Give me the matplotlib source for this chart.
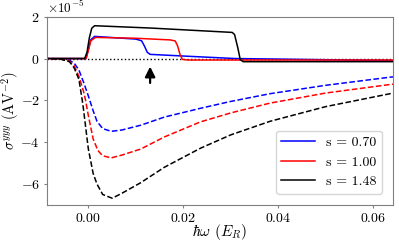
import matplotlib
matplotlib.use('Agg')
import matplotlib.pyplot as plt

plt.rcParams['font.family'] = 'serif'
plt.rcParams['font.serif'] = ['cmr10']
plt.rcParams['mathtext.fontset'] = 'cm'
plt.rcParams['axes.formatter.use_mathtext'] = True

labels = ['s = 0.70', 's = 1.00', 's = 1.48']
colors = ['blue', 'red', 'black']

# solid curves (units of 1e-5)
x_blue_s = [-0.0095, -0.0005, 0.0, 0.0005, 0.0013, 0.010, 0.0112, 0.0118, 0.0124, 0.013, 0.020, 0.031, 0.065]
y_blue_s = [0.0, 0.0, 0.45, 0.9, 1.06, 0.93, 0.85, 0.6, 0.3, 0.2, 0.12, 0.0, -0.1]
x_red_s = [-0.0095, -0.0005, 0.0, 0.0005, 0.0015, 0.010, 0.0173, 0.0183, 0.0188, 0.0193, 0.0198, 0.021, 0.065]
y_red_s = [0.0, 0.0, 0.4, 0.85, 1.01, 0.97, 0.89, 0.84, 0.6, 0.2, -0.04, -0.07, -0.07]
x_black_s = [-0.0095, -0.0008, -0.0003, 0.0002, 0.0007, 0.0013, 0.013, 0.0303, 0.0308, 0.0315, 0.032, 0.0326, 0.065]
y_black_s = [0.0, 0.0, 0.3, 1.0, 1.45, 1.57, 1.46, 1.25, 1.15, 0.5, -0.05, -0.15, -0.15]

# dashed curves (units of 1e-5)
x_blue_d = [-0.0095, -0.006, -0.004, -0.003, -0.002, -0.001, 0.0, 0.001, 0.0018, 0.003, 0.0048, 0.007, 0.011, 0.016, 0.0236, 0.030, 0.0383, 0.050, 0.0636, 0.065]
y_blue_d = [0.0, -0.01, -0.08, -0.22, -0.55, -1.15, -1.8, -2.5, -3.0, -3.35, -3.48, -3.42, -3.19, -2.8, -2.38, -2.05, -1.68, -1.28, -0.89, -0.86]
x_red_d = [-0.0095, -0.006, -0.004, -0.003, -0.002, -0.001, -0.0006, 0.0, 0.001, 0.002, 0.003, 0.0048, 0.007, 0.011, 0.016, 0.0236, 0.030, 0.0383, 0.050, 0.0636, 0.065]
y_red_d = [0.0, -0.02, -0.12, -0.35, -0.85, -1.6, -2.0, -2.75, -3.85, -4.4, -4.65, -4.75, -4.62, -4.33, -3.75, -3.03, -2.6, -2.13, -1.65, -1.24, -1.21]
x_black_d = [-0.0095, -0.006, -0.004, -0.003, -0.002, -0.0013, -0.001, -0.0002, 0.0, 0.001, 0.0018, 0.003, 0.005, 0.007, 0.011, 0.016, 0.0236, 0.030, 0.0383, 0.050, 0.0636, 0.065]
y_black_d = [0.0, -0.02, -0.15, -0.45, -1.0, -2.0, -2.5, -4.0, -4.35, -5.5, -6.0, -6.5, -6.68, -6.45, -5.94, -5.2, -4.29, -3.65, -3.0, -2.3, -1.68, -1.63]

solid = [(x_blue_s, y_blue_s), (x_red_s, y_red_s), (x_black_s, y_black_s)]
dashed = [(x_blue_d, y_blue_d), (x_red_d, y_red_d), (x_black_d, y_black_d)]

fig = plt.figure(figsize=(3.99, 2.46), dpi=100)
ax = fig.add_axes([0.117, 0.167, 0.868, 0.765])

ax.axhline(0, color='black', ls=':', lw=1)
for (xs, ys), (xd, yd), c, lab in zip(solid, dashed, colors, labels):
    ax.plot(xs, [v * 1e-5 for v in ys], color=c, lw=1.1, label=lab)
    ax.plot(xd, [v * 1e-5 for v in yd], color=c, lw=1.1, ls='--')

ax.annotate('', xy=(0.013, -0.25e-5), xytext=(0.013, -1.3e-5),
            arrowprops=dict(arrowstyle='-|>', color='black', lw=1.6, mutation_scale=15))

ax.set_xlim(-0.0088, 0.0642)
ax.set_ylim(-7e-5, 2e-5)
ax.set_xticks([0.0, 0.02, 0.04, 0.06])
ax.set_yticks([-6e-5, -4e-5, -2e-5, 0, 2e-5])
ax.ticklabel_format(axis='y', style='sci', scilimits=(0, 0))
ax.tick_params(labelsize=10, length=2, color='gray', pad=3)
ax.yaxis.get_offset_text().set_fontsize(9.5)
for sp in ax.spines.values():
    sp.set_color('gray')

ax.set_xlabel(r'$\hbar\omega$ $(E_R)$', fontsize=11)
ax.set_ylabel(r'$\sigma^{yyy}$ (AV$^{-2}$)', fontsize=10.5)
ax.xaxis.set_label_coords(0.5, -0.09)
ax.yaxis.set_label_coords(-0.075, 0.5)

leg = ax.legend(loc='lower right', fontsize=10, handlelength=2.4,
                borderaxespad=0.8)

fig.savefig('out.png', dpi=100)
